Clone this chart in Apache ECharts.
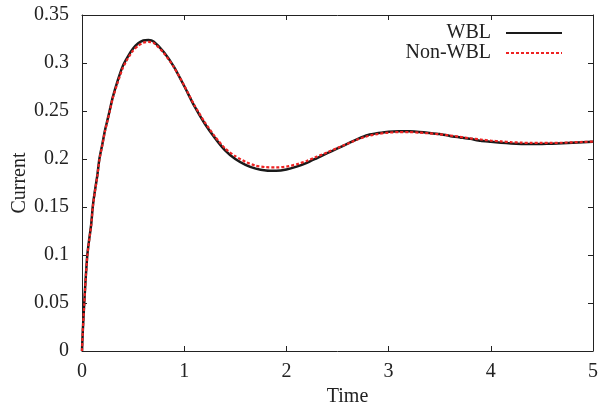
<!DOCTYPE html>
<html><head><meta charset="utf-8">
<script src="https://cdn.jsdelivr.net/npm/echarts@6/dist/echarts.min.js"></script>
<style>html,body{margin:0;padding:0;background:#fff}#c{width:601px;height:405px}</style>
</head><body><div id="c"></div>
<script>
const times = [0,0.007,0.015,0.022,0.035,0.052,0.07,0.09,0.105,0.125,0.15,0.17,0.2,0.225,0.25,0.27,0.3,0.35,0.4,0.45,0.5,0.55,0.6,0.65,0.7,0.8,0.9,1.0,1.1,1.2,1.3,1.4,1.5,1.6,1.7,1.8,1.9,2.0,2.1,2.2,2.3,2.4,2.5,2.6,2.7,2.8,2.9,3.0,3.1,3.2,3.3,3.4,3.5,3.6,3.7,3.8,3.9,4.0,4.1,4.2,4.3,4.4,4.5,4.6,4.7,4.8,4.9,5.0];
const wbl = [0,0.019,0.036,0.05,0.074,0.1,0.116,0.132,0.15,0.166,0.183,0.2,0.216,0.23,0.241,0.25,0.264,0.282,0.297,0.307,0.315,0.3205,0.3235,0.324,0.3225,0.3115,0.296,0.276,0.255,0.237,0.222,0.209,0.2,0.194,0.19,0.188,0.1877,0.189,0.192,0.196,0.201,0.206,0.211,0.216,0.221,0.225,0.227,0.2285,0.229,0.2288,0.2282,0.2272,0.226,0.224,0.2225,0.221,0.219,0.218,0.217,0.2162,0.2157,0.2155,0.2156,0.216,0.2165,0.217,0.2175,0.218];
const nonWbl = [0,0.019,0.035,0.049,0.073,0.099,0.115,0.131,0.149,0.165,0.182,0.199,0.215,0.229,0.24,0.249,0.263,0.28,0.295,0.305,0.313,0.318,0.321,0.322,0.321,0.3105,0.2955,0.2765,0.256,0.2385,0.2235,0.211,0.203,0.197,0.193,0.1915,0.1912,0.192,0.1945,0.198,0.2025,0.207,0.2115,0.216,0.2205,0.224,0.2262,0.2275,0.228,0.228,0.2275,0.2267,0.2257,0.2245,0.223,0.2215,0.2203,0.2192,0.2183,0.2175,0.217,0.2167,0.2167,0.2168,0.217,0.2174,0.2178,0.2182];
const seriesNames = ['WBL','Non-WBL'];
const xTicks = {min:0,max:5,interval:1};
const yTicks = {min:0,max:0.35,interval:0.05};

const font = 'Liberation Serif';
const fs = 20;
const axisCommon = {
  axisLine:{show:true,onZero:false,lineStyle:{color:'#222',width:1}},
  axisTick:{show:true,inside:true,length:5,lineStyle:{color:'#222'}},
  splitLine:{show:false}
};
const chart = echarts.init(document.getElementById('c'));
chart.setOption({
  animation:false,
  grid:{left:82,right:8,top:15,bottom:54,containLabel:false,outerBoundsMode:'none'},
  legend:{
    orient:'vertical',right:33,top:18,align:'right',itemWidth:56,itemHeight:14,itemGap:0,
    itemStyle:{opacity:0},
    formatter:n=>'{a|'+n+'}',
    textStyle:{fontFamily:font,fontSize:fs,color:'#222',rich:{a:{fontFamily:font,fontSize:fs,color:'#222',padding:[0,10,0,0]}}},
    data:seriesNames
  },
  xAxis:[
    Object.assign({type:'value',min:xTicks.min,max:xTicks.max,interval:xTicks.interval,position:'bottom',
      name:'Time',nameLocation:'middle',nameGap:36,nameMoveOverlap:false,nameTextStyle:{fontFamily:font,fontSize:fs,color:'#222',padding:[0,0,0,20]},
      axisLabel:{fontFamily:font,fontSize:fs,color:'#222',margin:11}},axisCommon),
    Object.assign({type:'value',min:xTicks.min,max:xTicks.max,interval:xTicks.interval,position:'top',
      axisLabel:{show:false}},axisCommon)
  ],
  yAxis:[
    Object.assign({type:'value',min:yTicks.min,max:yTicks.max,interval:yTicks.interval,position:'left',
      name:'Current',nameLocation:'middle',nameGap:52,nameMoveOverlap:false,nameTextStyle:{fontFamily:font,fontSize:fs,color:'#222'},
      axisLabel:{fontFamily:font,fontSize:fs,color:'#222',margin:13,formatter:v=>String(+v.toFixed(2))}},axisCommon),
    Object.assign({type:'value',min:yTicks.min,max:yTicks.max,interval:yTicks.interval,position:'right',
      axisLabel:{show:false}},axisCommon)
  ],
  series:[
    {name:seriesNames[0],type:'line',data:times.map((t,i)=>[t,wbl[i]]),showSymbol:false,symbol:'none',smooth:0.2,
      lineStyle:{color:'#1a1a1a',width:2.5},itemStyle:{color:'#1a1a1a'}},
    {name:seriesNames[1],type:'line',data:times.map((t,i)=>[t,nonWbl[i]]),showSymbol:false,symbol:'none',smooth:0.2,
      lineStyle:{color:'#ee2222',width:2.2,type:[3,2]},itemStyle:{color:'#ee2222'}}
  ]
});
</script></body></html>
